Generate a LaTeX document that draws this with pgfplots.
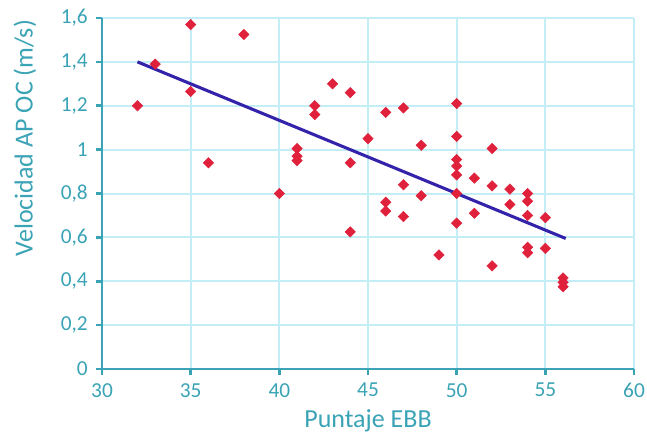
\documentclass[border=0pt]{standalone}
\usepackage{fontspec}
\setmainfont{Carlito}
\usepackage{pgfplots}
\pgfplotsset{compat=1.18}
\definecolor{cAxis}{HTML}{3AA3B5}
\definecolor{cGrid}{HTML}{C4EEF5}
\definecolor{cMark}{HTML}{E0213C}
\definecolor{cLine}{HTML}{3322AA}

\begin{document}
\begin{tikzpicture}
\begin{axis}[
  scale only axis,
  width=399pt, height=263.25pt,
  xmin=30, xmax=60, ymin=0, ymax=1.6,
  xtick={30,35,...,60},
  ytick={0,0.2,...,1.6},
  axis x line*=bottom, axis y line*=left,
  axis line style={cAxis, line width=2.2pt, -},
  tick style={cAxis, line width=2pt},
  tick align=outside,
  major tick length=4.5pt,
  grid=major,
  grid style={cGrid, line width=1.5pt},
  /pgf/number format/use comma,
  /pgf/number format/assume math mode=true,
  tick label style={font=\fontsize{16}{19}\selectfont, text=cAxis, inner sep=0pt},
  yticklabel style={anchor=east, xshift=-6pt},
  xticklabel style={anchor=north, yshift=-6pt},
  xlabel={Puntaje EBB},
  ylabel={Velocidad AP OC (m/s)},
  label style={font=\fontsize{19.5}{22}\selectfont, text=cAxis, inner sep=0pt},
  xlabel style={at={(axis description cs:0.5,0)}, anchor=base, yshift=-43.5pt},
  ylabel style={at={(axis description cs:-0.1303,0.658)}, anchor=base, rotate=0},
  clip=false,
]
\addplot[only marks, mark=square*, mark size=2.75pt, color=cMark,
  every mark/.append style={rotate=45}] coordinates {
  (32,1.20) (33,1.39) (35,1.57) (35,1.265) (36,0.94) (38,1.525)
  (40,0.80) (41,1.005) (41,0.97) (41,0.95) (42,1.20) (42,1.16)
  (43,1.30) (44,1.26) (44,0.94) (44,0.625) (45,1.05) (46,1.17)
  (46,0.76) (46,0.72) (47,1.19) (47,0.84) (47,0.695) (48,1.02)
  (48,0.79) (49,0.52) (50,1.21) (50,1.06) (50,0.955) (50,0.925)
  (50,0.885) (50,0.80) (50,0.665) (51,0.87) (51,0.71) (52,1.005)
  (52,0.835) (52,0.47) (53,0.82) (53,0.75) (54,0.80) (54,0.765)
  (54,0.70) (54,0.555) (54,0.53) (55,0.69) (55,0.55)
  (56,0.415) (56,0.395) (56,0.375)
};
\addplot[cLine, line width=2.3pt] coordinates {(32,1.40) (56.15,0.595)};
\end{axis}
\pgfresetboundingbox
\useasboundingbox ([xshift=-76.5pt,yshift=-48pt]current axis.south west)
  rectangle ([xshift=9.75pt,yshift=13.5pt]current axis.north east);
\end{tikzpicture}
\end{document}
